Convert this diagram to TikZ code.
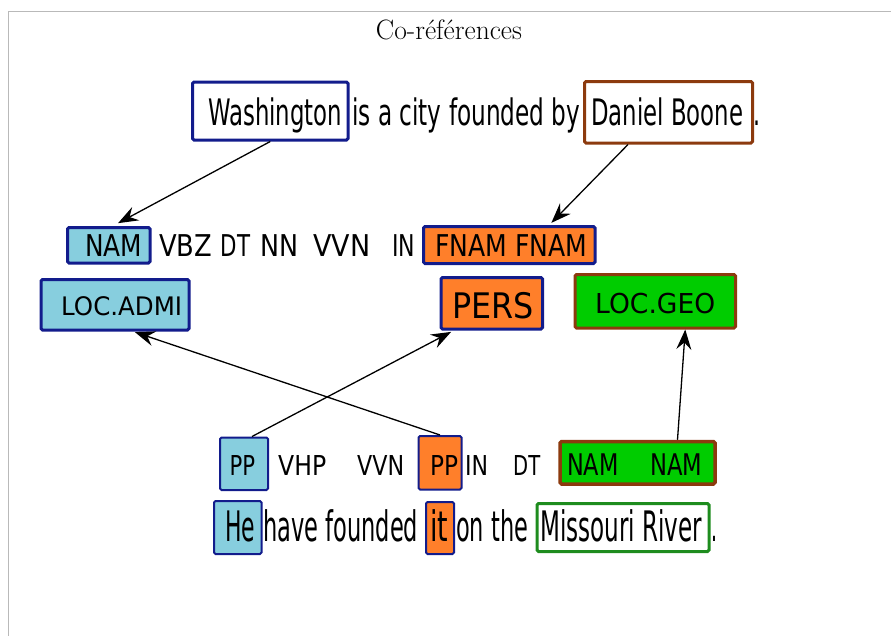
\documentclass[tikz,border=0pt]{standalone}
\usepackage{fontspec}
\usepackage{graphicx}
\usetikzlibrary{arrows.meta}
\newfontfamily\dv{DejaVu Sans}
\definecolor{navy}{RGB}{18,28,140}
\definecolor{brownb}{RGB}{140,58,14}
\definecolor{lblue}{RGB}{135,206,222}
\definecolor{orng}{RGB}{255,127,42}
\definecolor{grn}{RGB}{0,204,0}
\definecolor{dgrn}{RGB}{30,140,30}
\newcommand{\fw}[3]{\resizebox{#1pt}{\height}{\fontsize{#2pt}{#2pt}\selectfont\dv #3}}
\begin{document}
\begin{tikzpicture}[x=1pt,y=-1pt,
  txt/.style={anchor=base west, inner sep=0pt},
  bx/.style={draw, rounded corners=1.5pt, inner sep=0pt},
  arr/.style={-{Stealth[length=20pt,width=15pt,inset=7pt]}, line width=1.3pt, black}]
\useasboundingbox (0,0) rectangle (891,635);
\draw[gray!55, line width=1.5pt] (8.5,636) -- (8.5,11.5) -- (892,11.5);
\node[anchor=base, inner sep=0pt] (title) at (449,39) {\resizebox{146pt}{1.12\height}{\fontsize{25pt}{25pt}\selectfont Co-références}};

% boxes
\node[bx, draw=navy, line width=3pt, fill=white, minimum width=155.5pt, minimum height=58pt] (washB) at (270.25,111) {};
\node[bx, draw=brownb, line width=3pt, fill=white, minimum width=168pt, minimum height=61.5pt] (danB) at (668.5,112.25) {};
\node[bx, draw=navy, line width=3pt, fill=lblue, minimum width=82.5pt, minimum height=35.5pt] (namB) at (108.75,245.25) {};
\node[bx, draw=navy, line width=3pt, fill=orng, minimum width=171.5pt, minimum height=37pt] (fnamB) at (509.25,245) {};
\node[bx, draw=navy, line width=3pt, fill=lblue, minimum width=148pt, minimum height=50.5pt] (locaB) at (115,304.75) {};
\node[bx, draw=navy, line width=3pt, fill=orng, minimum width=101.5pt, minimum height=51.5pt] (persB) at (491.75,303.25) {};
\node[bx, draw=brownb, line width=3pt, fill=grn, minimum width=160.5pt, minimum height=53.5pt] (locgB) at (655.25,301.25) {};
\node[bx, draw=navy, line width=2pt, fill=lblue, minimum width=48pt, minimum height=52.5pt] (ppbB) at (244,463.75) {};
\node[bx, draw=navy, line width=2pt, fill=orng, minimum width=43pt, minimum height=53.5pt] (ppoB) at (440,462.75) {};
\node[bx, draw=brownb, line width=3.5pt, fill=grn, minimum width=155pt, minimum height=42.5pt] (nnB) at (637.5,462.75) {};
\node[bx, draw=navy, line width=2pt, fill=lblue, minimum width=47.5pt, minimum height=53pt] (heB) at (237.75,527.5) {};
\node[bx, draw=navy, line width=2pt, fill=orng, minimum width=28pt, minimum height=52pt] (itB) at (440,528) {};
\node[bx, draw=dgrn, line width=3pt, fill=white, minimum width=172pt, minimum height=48pt] (misB) at (623,527.5) {};

% top sentence
\node[txt] (t1) at (208,125) {\fw{134}{36.5}{Washington}};
\node[txt] (t2) at (352,125) {\fw{228}{36.5}{is a city founded by}};
\node[txt] (t3) at (591,125) {\fw{152}{36.5}{Daniel Boone}};
\node[txt] (t4) at (753,125) {\fw{7}{36.5}{.}};

% tag row 1
\node[txt] (r1a) at (85,256) {\fw{57}{30}{NAM}};
\node[txt] (r1b) at (159,256) {\fw{53}{30}{VBZ}};
\node[txt] (r1c) at (220.5,256) {\fw{29.5}{30}{DT}};
\node[txt] (r1d) at (260,256) {\fw{38}{30}{NN}};
\node[txt] (r1e) at (313,256) {\fw{57}{30}{VVN}};
\node[txt] (r1f) at (392,256) {\fw{23}{30}{IN}};
\node[txt] (r1g) at (435,256) {\fw{152}{30}{FNAM FNAM}};

% row 2
\node[txt] (r2a) at (61,315) {\fw{121}{25.5}{LOC.ADMI}};
\node[txt] (r2b) at (452,318) {\fw{81.5}{35.2}{PERS}};
\node[txt] (r2c) at (595,313) {\fw{120}{27.4}{LOC.GEO}};

% tag row 3
\node[txt] (r3a) at (229.5,475) {\fw{25.5}{27.4}{PP}};
\node[txt] (r3b) at (278,475) {\fw{48}{27.4}{VHP}};
\node[txt] (r3c) at (357,475) {\fw{47}{27.4}{VVN}};
\node[txt] (r3d) at (430,475) {\fw{28}{27.4}{PP}};
\node[txt] (r3e) at (465,475) {\fw{23}{27.4}{IN}};
\node[txt] (r3f) at (513,475) {\fw{27}{27.4}{DT}};
\node[txt] (r3g) at (567,475) {\fw{51.5}{29.8}{NAM}};
\node[txt] (r3h) at (650,475) {\fw{52}{29.8}{NAM}};

% bottom sentence
\node[txt] (b1) at (225,541) {\fw{30}{42}{He}};
\node[txt] (b2) at (263,541) {\fw{155}{42}{have founded}};
\node[txt] (b3) at (430,541) {\fw{18}{42}{it}};
\node[txt] (b4) at (456,541) {\fw{72}{42}{on the}};
\node[txt] (b5) at (540,541) {\fw{162}{42}{Missouri River}};
\node[txt] (b6) at (711,541) {\fw{6}{42}{.}};

% arrows
\draw[arr, shorten >=6pt] (washB.south) -- ([xshift=4pt]namB.north);
\draw[arr, shorten >=3pt] ([xshift=-40.5pt]danB.south) -- ([xshift=40pt]fnamB.north);
\draw[arr, shorten >=2pt] (ppoB.north) -- ([xshift=18pt]locaB.south);
\draw[arr, shorten >=3pt] ([xshift=8pt]ppbB.north) -- ([xshift=-38pt]persB.south);
\draw[arr] ([xshift=40pt]nnB.north) -- ([xshift=30pt]locgB.south);
\end{tikzpicture}
\end{document}
